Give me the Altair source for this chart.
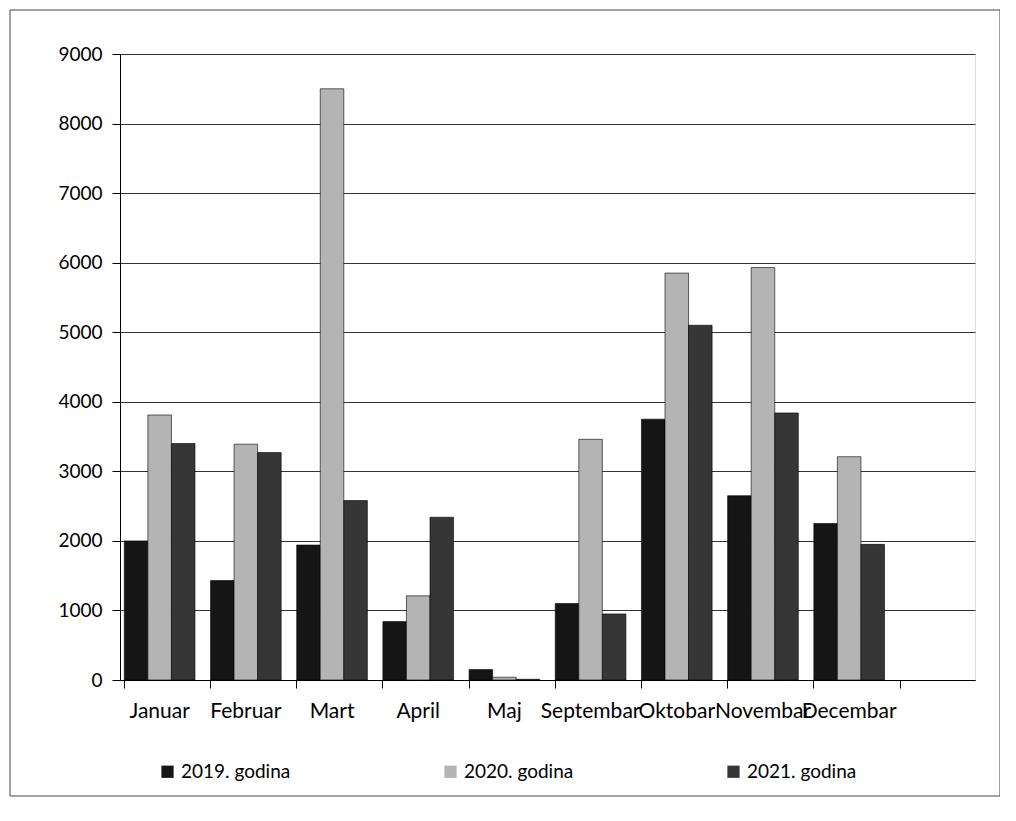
import altair as alt
import pandas as pd

months = ["Januar", "Februar", "Mart", "April", "Maj", "Septembar",
          "Oktobar", "Novembar", "Decembar"]
series = ["2019. godina", "2020. godina", "2021. godina"]
v2019 = [2000, 1430, 1940, 840, 150, 1100, 3750, 2650, 2250]
v2020 = [3810, 3390, 8500, 1210, 40, 3460, 5850, 5930, 3210]
v2021 = [3400, 3270, 2580, 2340, 10, 950, 5100, 3840, 1950]
y_ticks = [0, 1000, 2000, 3000, 4000, 5000, 6000, 7000, 8000, 9000]
colors = ["#151515", "#b4b4b4", "#363636"]

rows = []
for vals, s in zip([v2019, v2020, v2021], series):
    for m, v in zip(months, vals):
        rows.append({"mjesec": m, "godina": s, "vrijednost": v})
df = pd.DataFrame(rows)

FONT = "Lato"
x_domain = months + [" "]

bars = alt.Chart(df).mark_bar(stroke="#000000", strokeWidth=0.6).encode(
    x=alt.X("mjesec:N", sort=x_domain,
            scale=alt.Scale(domain=x_domain, paddingInner=0.18, paddingOuter=0.05),
            axis=alt.Axis(title=None, labelAngle=0, labelFontSize=21, labelFont=FONT,
                          labelColor="#000", labelPadding=12, tickSize=8,
                          tickColor="#000", domainColor="#000", bandPosition=0,
                          labelOverlap=False, grid=False, labelLimit=200)),
    xOffset=alt.XOffset("godina:N", sort=series,
                        scale=alt.Scale(paddingInner=0.0)),
    y=alt.Y("vrijednost:Q",
            scale=alt.Scale(domain=[0, 9000], nice=False),
            axis=alt.Axis(title=None, values=y_ticks, format="d", labelFontSize=19,
                          labelFont=FONT, labelColor="#000", labelPadding=10, tickSize=8,
                          tickColor="#000", domainColor="#000",
                          gridColor="#333", gridWidth=1)),
    color=alt.Color("godina:N", sort=series,
                    scale=alt.Scale(domain=series, range=colors),
                    legend=alt.Legend(title=None, orient="none", direction="horizontal",
                                      legendX=38, legendY=708, symbolType="square",
                                      symbolSize=150, symbolStrokeWidth=0,
                                      labelFontSize=19, labelFont=FONT, labelColor="#000",
                                      columnPadding=150, labelLimit=300)),
)

frame = alt.Chart(pd.DataFrame({"a": [0]})).mark_rect(
    filled=False, stroke="#444", strokeWidth=1, clip=False
).encode(x=alt.value(-110), x2=alt.value(880), y=alt.value(-44), y2=alt.value(742))

chart = alt.layer(frame, bars).properties(
    width=855, height=626,
    autosize=alt.AutoSizeParams(type="none"),
    padding={"left": 112, "top": 46, "right": 25, "bottom": 125},
).configure_view(stroke=None).configure(background="#ffffff")

chart.save("out.html", embed_options={"renderer": "svg", "actions": False})
